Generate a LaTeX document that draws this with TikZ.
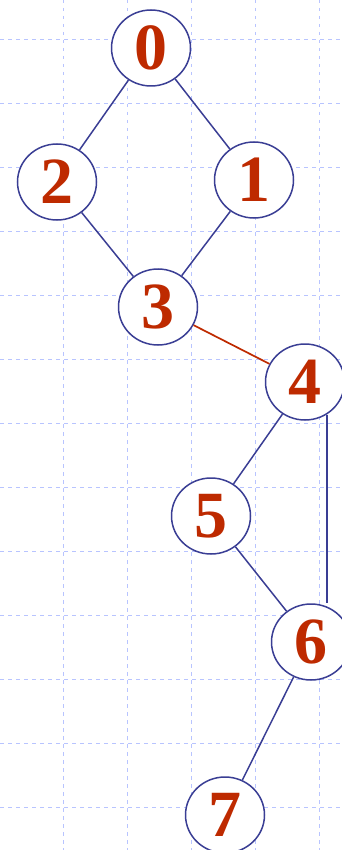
\documentclass[tikz,border=0pt]{standalone}
\usepackage{fontspec}
\setmainfont{Liberation Serif}
\usepackage{xcolor}
\usepackage{tikz}
\usetikzlibrary{shapes.geometric}
\definecolor{gridLavender}{RGB}{184,196,255}
\definecolor{nodeBlue}{RGB}{58,62,148}
\definecolor{digitRed}{RGB}{190,42,0}

\begin{document}
\begin{tikzpicture}[x=1pt, y=-1pt,
  vtx/.style={ellipse, draw=nodeBlue, line width=1.5pt, fill=white,
    minimum width=79pt, minimum height=76pt, inner sep=0pt,
    text=digitRed, font=\fontsize{66}{66}\bfseries\selectfont},
  edge/.style={nodeBlue, line width=1.5pt},
  redge/.style={digitRed, line width=1.7pt}]
\useasboundingbox (0,0) rectangle (342,850);

% background grid
\foreach \gy in {0,...,12}
  \draw[gridLavender, line width=0.9pt, dash pattern=on 3.5pt off 4.5pt] (0,39+64*\gy) -- (342,39+64*\gy);
\foreach \gx in {0,...,4}
  \draw[gridLavender, line width=0.9pt, dash pattern=on 3.5pt off 4.5pt] (63+64*\gx,0) -- (63+64*\gx,850);

\node[vtx] (n0) at (151,48) {0};
\node[vtx] (n2) at (57,182) {2};
\node[vtx] (n1) at (254,180) {1};
\node[vtx] (n3) at (158,307) {3};
\node[vtx] (n4) at (305,382) {4};
\node[vtx] (n5) at (211,516) {5};
\node[vtx] (n6) at (311,642) {6};
\node[vtx] (n7) at (225,815) {7};

\draw[edge] (n0) -- (n2);
\draw[edge] (n0) -- (n1);
\draw[edge] (n2) -- (n3);
\draw[edge] (n1) -- (n3);
\draw[redge] (n3) -- (n4);
\draw[edge] (n4) -- (n5);
\draw[edge] (n4.-56) -- (n6.north -| n4.-56);
\draw[edge] (n5) -- (n6);
\draw[edge] (n6) -- (n7);
\end{tikzpicture}
\end{document}
